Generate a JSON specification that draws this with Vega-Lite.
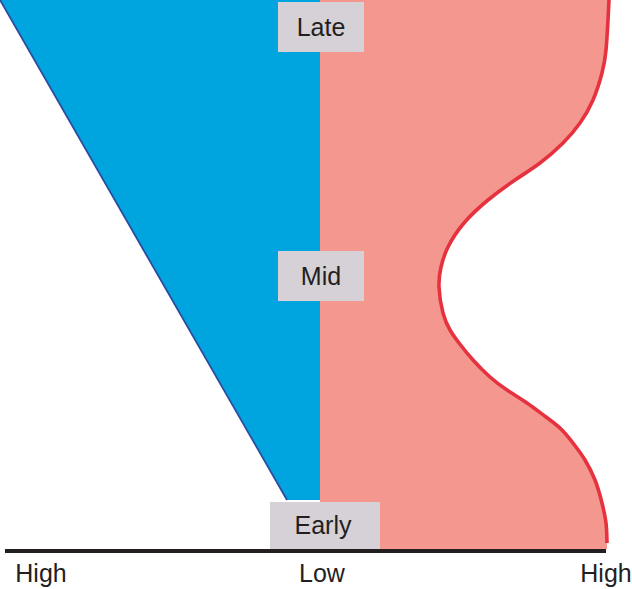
{
  "$schema": "https://vega.github.io/schema/vega-lite/v6.json",
  "width": 632,
  "height": 589,
  "autosize": "none",
  "padding": 0,
  "background": "white",
  "config": {"view": {"stroke": null}, "text": {"font": "Liberation Sans"}},
  "datasets": {
    "blue": [
      {"t": 548, "x": -320, "x2": 0},
      {"t": 48, "x": -33, "x2": 0}
    ],
    "pink": [
      {"t": 548, "x": 289, "x2": 0},
      {"t": 528, "x": 288, "x2": 0},
      {"t": 498, "x": 286, "x2": 0},
      {"t": 475, "x": 282, "x2": 0},
      {"t": 448, "x": 273, "x2": 0},
      {"t": 425, "x": 260, "x2": 0},
      {"t": 405, "x": 243, "x2": 0},
      {"t": 385, "x": 220, "x2": 0},
      {"t": 368, "x": 195, "x2": 0},
      {"t": 348, "x": 168, "x2": 0},
      {"t": 325, "x": 144, "x2": 0},
      {"t": 301, "x": 128, "x2": 0},
      {"t": 281, "x": 121, "x2": 0},
      {"t": 261, "x": 119, "x2": 0},
      {"t": 235, "x": 123, "x2": 0},
      {"t": 218, "x": 130, "x2": 0},
      {"t": 205, "x": 139, "x2": 0},
      {"t": 188, "x": 153, "x2": 0},
      {"t": 171, "x": 170, "x2": 0},
      {"t": 158, "x": 187, "x2": 0},
      {"t": 145, "x": 207, "x2": 0},
      {"t": 131, "x": 226, "x2": 0},
      {"t": 118, "x": 242, "x2": 0},
      {"t": 101, "x": 256, "x2": 0},
      {"t": 88, "x": 265, "x2": 0},
      {"t": 68, "x": 275, "x2": 0},
      {"t": 45, "x": 282, "x2": 0},
      {"t": 25, "x": 286, "x2": 0},
      {"t": 5, "x": 287, "x2": 0},
      {"t": -1, "x": 287, "x2": 0}
    ],
    "boxes": [
      {"label": "Late", "x": -42, "x2": 44, "t": 546, "t2": 496, "tx": 1, "ty": 512},
      {"label": "Mid", "x": -42, "x2": 44, "t": 297, "t2": 247, "tx": 1, "ty": 263},
      {"label": "Early", "x": -50, "x2": 60, "t": 46, "t2": -1, "tx": 3, "ty": 14}
    ],
    "axis": [
      {"x": -315, "x2": 286, "t": -3}
    ],
    "ticks": [
      {"label": "High", "x": -279, "t": -34},
      {"label": "Low", "x": 2, "t": -34},
      {"label": "High", "x": 286, "t": -34}
    ]
  },
  "layer": [
    {
      "data": {"name": "blue"},
      "mark": {"type": "area", "color": "#00a5e0", "opacity": 1},
      "encoding": {
        "y": {"field": "t", "type": "quantitative", "scale": {"domain": [-41, 548], "nice": false, "zero": false}, "axis": null},
        "x": {"field": "x", "type": "quantitative", "scale": {"domain": [-320, 312], "nice": false, "zero": false}, "axis": null},
        "x2": {"field": "x2"}
      }
    },
    {
      "data": {"name": "blue"},
      "mark": {"type": "line", "color": "#2b4c9e", "strokeWidth": 1.8},
      "encoding": {
        "y": {"field": "t", "type": "quantitative"},
        "x": {"field": "x", "type": "quantitative"},
        "order": {"field": "t", "type": "quantitative"}
      }
    },
    {
      "data": {"name": "pink"},
      "mark": {"type": "area", "color": "#f4978e", "interpolate": "natural", "opacity": 1},
      "encoding": {
        "y": {"field": "t", "type": "quantitative"},
        "x": {"field": "x", "type": "quantitative"},
        "x2": {"field": "x2"}
      }
    },
    {
      "data": {"name": "pink"},
      "transform": [{"filter": "datum.t > 2"}],
      "mark": {"type": "line", "color": "#e5323e", "strokeWidth": 3.6, "interpolate": "natural"},
      "encoding": {
        "y": {"field": "t", "type": "quantitative"},
        "x": {"field": "x", "type": "quantitative"},
        "order": {"field": "t", "type": "quantitative"}
      }
    },
    {
      "data": {"name": "boxes"},
      "mark": {"type": "rect", "color": "#d6d1d6", "opacity": 1},
      "encoding": {
        "x": {"field": "x", "type": "quantitative"},
        "x2": {"field": "x2"},
        "y": {"field": "t", "type": "quantitative"},
        "y2": {"field": "t2"}
      }
    },
    {
      "data": {"name": "boxes"},
      "mark": {"type": "text", "fontSize": 25, "color": "#231f20", "align": "center", "baseline": "alphabetic"},
      "encoding": {
        "x": {"field": "tx", "type": "quantitative"},
        "y": {"field": "ty", "type": "quantitative"},
        "text": {"field": "label"}
      }
    },
    {
      "data": {"name": "axis"},
      "mark": {"type": "rule", "color": "#231f20", "strokeWidth": 4},
      "encoding": {
        "x": {"field": "x", "type": "quantitative"},
        "x2": {"field": "x2"},
        "y": {"field": "t", "type": "quantitative"}
      }
    },
    {
      "data": {"name": "ticks"},
      "mark": {"type": "text", "fontSize": 25, "color": "#231f20", "align": "center", "baseline": "alphabetic"},
      "encoding": {
        "x": {"field": "x", "type": "quantitative"},
        "y": {"field": "t", "type": "quantitative"},
        "text": {"field": "label"}
      }
    }
  ]
}
